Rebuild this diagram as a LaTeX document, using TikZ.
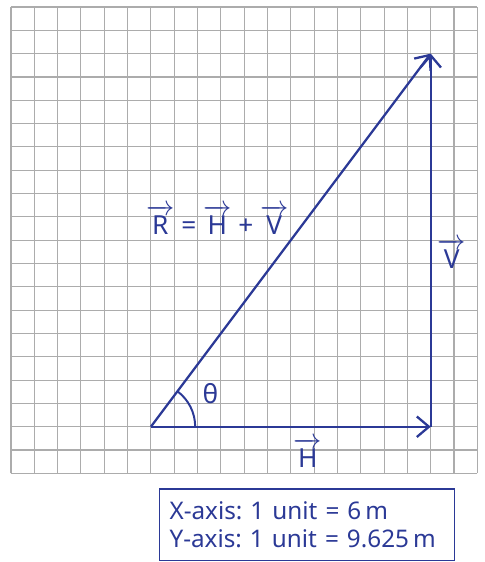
\documentclass[tikz,border=0pt]{standalone}
\usepackage{amsmath}
\usepackage{fontspec}
\setmainfont{Noto Sans}
\usetikzlibrary{arrows.meta}
\definecolor{vecblue}{RGB}{43,57,150}
\definecolor{gridgray}{RGB}{172,172,172}
\newcommand{\vlab}[1]{\ensuremath{\overrightarrow{\text{#1}}}}
\newcommand{\keyfont}{\fontsize{14.8}{17}\selectfont\spaceskip=0.5em plus 0.1em\relax}
\frenchspacing
\tikzset{
  gridline/.style={gridgray, line width=0.7pt},
  vecline/.style={vecblue, line width=1.4pt, -{Straight Barb[length=2.6mm,width=4.4mm]}},
  veclabel/.style={vecblue, anchor=base, font=\fontsize{16}{18}\selectfont},
  keybox/.style={draw=vecblue, line width=0.7pt, text=vecblue, align=left,
    minimum width=6.33cm, minimum height=1.53cm, text width=5.9cm, font=\keyfont}
}
\begin{document}
\begin{tikzpicture}[x=0.5cm,y=0.5cm]
\useasboundingbox (-0.47,-3.8) rectangle (20.32,20.3);
% squared paper
\foreach \i in {0,...,20}{
  \draw[gridline] (\i,0) -- (\i,20);
  \draw[gridline] (0,\i) -- (20,\i);
}
\coordinate (O) at (6,2);
\coordinate (Hend) at (18,2);
\coordinate (Vend) at (18,18);
% vectors
\draw[vecline] (O) -- (Hend);
\draw[vecline] (Hend) -- (Vend);
\draw[vecline] (O) -- (Vend);
\draw[vecblue, line width=1.2pt] ([shift={(0:1.9)}]O) arc (0:53.13:1.9);
\node[veclabel] (theta) at (8.55,3.0) {θ};
\node[veclabel] (Rlab) at (8.85,10.26) {\vlab{R} = \vlab{H} + \vlab{V}};
\node[veclabel] (Vlab) at (18.9,8.8) {\vlab{V}};
\node[veclabel] (Hlab) at (12.73,0.27) {\vlab{H}};
\node[keybox] (key) at (12.7,-2.2) {X-axis: 1 unit = 6\,m\\Y-axis: 1 unit = 9.625\,m};
\end{tikzpicture}
\end{document}
